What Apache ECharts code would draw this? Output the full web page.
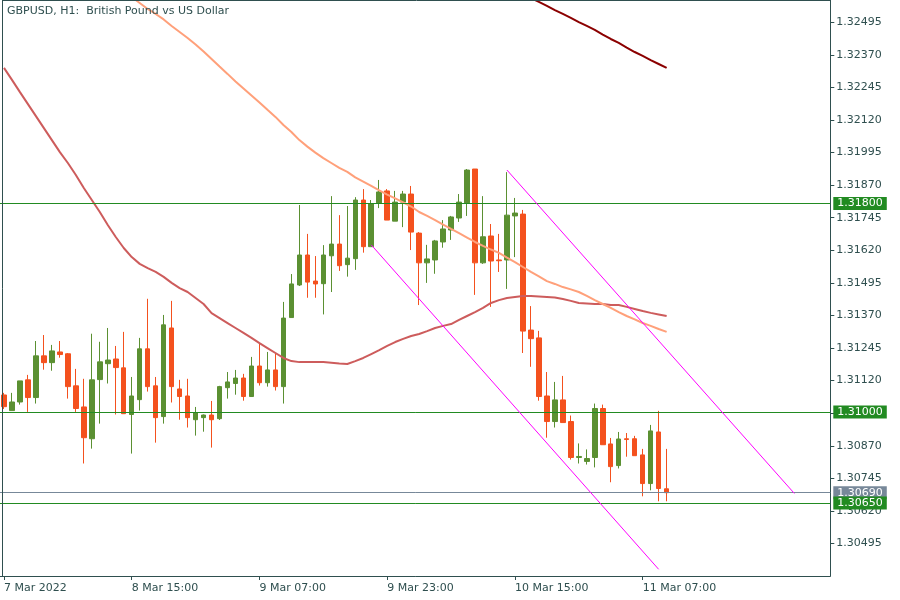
<!DOCTYPE html>
<html>
<head>
<meta charset="utf-8">
<script src="https://cdn.jsdelivr.net/npm/echarts@6/dist/echarts.min.js"></script>
<style>
html,body{margin:0;padding:0;background:#fff;}
#chart{width:900px;height:600px;}
</style>
</head>
<body>
<div id="chart"></div>
<script>
// ---- data (GBPUSD H1, first bar 7 Mar 2022 23:00) ----
const openP = [1.31065,1.31005,1.31038,1.31123,1.31055,1.31215,1.31189,1.31230,1.31223,1.31100,
1.31019,1.30897,1.31124,1.31185,1.31203,1.31169,1.30990,1.31047,1.31242,1.31100,
1.30982,1.31322,1.31088,1.31061,1.30970,1.30978,1.30988,1.30974,1.31093,1.31109,
1.31130,1.31059,1.31176,1.31112,1.31161,1.31097,1.31362,1.31487,1.31602,1.31502,
1.31492,1.31599,1.31644,1.31565,1.31588,1.31813,1.31634,1.31802,1.31848,1.31732,
1.31805,1.31836,1.31686,1.31572,1.31583,1.31652,1.31698,1.31744,1.31802,1.31932,
1.31572,1.31675,1.31583,1.31583,1.31752,1.31759,1.31314,1.31284,1.31061,1.30963,
1.31046,1.30963,1.30825,1.30810,1.30825,1.31013,1.30877,1.30794,1.30897,1.30897,
1.30835,1.30725,1.30923,1.30705];
const closeP = [1.31020,1.31038,1.31119,1.31055,1.31215,1.31189,1.31234,1.31220,1.31097,1.31013,
1.30901,1.31123,1.31192,1.31199,1.31170,1.30993,1.31061,1.31242,1.31097,1.30978,
1.31334,1.31097,1.31059,1.30978,1.30997,1.30988,1.30970,1.31097,1.31115,1.31130,
1.31059,1.31176,1.31112,1.31161,1.31097,1.31360,1.31491,1.31602,1.31498,1.31491,
1.31602,1.31644,1.31561,1.31590,1.31813,1.31634,1.31798,1.31844,1.31736,1.31805,
1.31836,1.31690,1.31572,1.31587,1.31656,1.31702,1.31748,1.31805,1.31928,1.31572,
1.31672,1.31579,1.31580,1.31755,1.31763,1.31310,1.31281,1.31059,1.30963,1.31046,
1.30959,1.30825,1.30829,1.30821,1.31013,1.30874,1.30790,1.30896,1.30894,1.30832,
1.30725,1.30927,1.30706,1.30690];
const lowP = [1.31011,1.31005,1.31028,1.31000,1.31032,1.31162,1.31158,1.31208,1.31051,1.31000,
1.30802,1.30859,1.30955,1.31109,1.30990,1.30993,1.30840,1.31005,1.31078,1.30882,
1.30955,1.31036,1.30970,1.30940,1.30909,1.30924,1.30863,1.30969,1.31051,1.31066,
1.31043,1.31059,1.31101,1.31097,1.31082,1.31032,1.31362,1.31483,1.31438,1.31438,
1.31374,1.31460,1.31541,1.31519,1.31545,1.31611,1.31634,1.31782,1.31736,1.31732,
1.31709,1.31621,1.31410,1.31495,1.31530,1.31630,1.31660,1.31729,1.31752,1.31449,
1.31568,1.31403,1.31537,1.31472,1.31594,1.31226,1.31173,1.31043,1.30901,1.30940,
1.30959,1.30817,1.30802,1.30798,1.30787,1.30874,1.30730,1.30783,1.30828,1.30832,
1.30676,1.30699,1.30657,1.30657];
const highP = [1.31073,1.31073,1.31119,1.31142,1.31272,1.31295,1.31257,1.31272,1.31226,1.31165,
1.31127,1.31300,1.31269,1.31322,1.31253,1.31307,1.31134,1.31284,1.31434,1.31134,
1.31372,1.31426,1.31123,1.31127,1.31019,1.30990,1.31042,1.31100,1.31153,1.31161,
1.31146,1.31211,1.31265,1.31230,1.31223,1.31422,1.31529,1.31794,1.31683,1.31598,
1.31640,1.31828,1.31755,1.31790,1.31824,1.31855,1.31813,1.31890,1.31855,1.31848,
1.31848,1.31867,1.31690,1.31641,1.31660,1.31736,1.31752,1.31836,1.31932,1.31932,
1.31828,1.31721,1.31683,1.31920,1.31821,1.31775,1.31406,1.31311,1.31153,1.31115,
1.31138,1.30986,1.30879,1.30856,1.31032,1.31028,1.30900,1.30923,1.30919,1.30908,
1.30858,1.30950,1.31004,1.30858];

// moving averages (null where not drawn)
const maSalmon = [null,null,null,null,null,null,null,null,null,null,
null,null,null,null,1.32638,1.32615,1.32592,1.32569,1.32546,1.32527,
1.32506,1.32481,1.32458,1.32435,1.32410,1.32383,1.32354,1.32325,1.32297,1.32268,
1.32241,1.32214,1.32187,1.32159,1.32132,1.32101,1.32074,1.32043,1.32018,1.31995,
1.31974,1.31955,1.31936,1.31921,1.31900,1.31884,1.31867,1.31850,1.31834,1.31819,
1.31804,1.31788,1.31767,1.31752,1.31736,1.31719,1.31702,1.31686,1.31669,1.31652,
1.31637,1.31623,1.31610,1.31592,1.31575,1.31556,1.31537,1.31520,1.31502,1.31491,
1.31479,1.31470,1.31460,1.31445,1.31429,1.31414,1.31399,1.31383,1.31368,1.31355,
1.31341,1.31330,1.31318,1.31307];
const maIndian = [1.32320,1.32274,1.32227,1.32181,1.32135,1.32089,1.32043,1.31997,1.31955,1.31909,
1.31859,1.31813,1.31767,1.31717,1.31671,1.31629,1.31594,1.31568,1.31552,1.31537,
1.31518,1.31495,1.31475,1.31460,1.31437,1.31414,1.31379,1.31360,1.31341,1.31322,
1.31303,1.31284,1.31264,1.31245,1.31226,1.31207,1.31195,1.31191,1.31191,1.31191,
1.31191,1.31189,1.31186,1.31184,1.31195,1.31207,1.31222,1.31237,1.31253,1.31268,
1.31280,1.31291,1.31299,1.31310,1.31322,1.31330,1.31337,1.31353,1.31368,1.31383,
1.31399,1.31418,1.31429,1.31437,1.31441,1.31445,1.31445,1.31443,1.31441,1.31439,
1.31433,1.31426,1.31418,1.31416,1.31414,1.31414,1.31410,1.31410,1.31403,1.31395,
1.31387,1.31380,1.31374,1.31368];
const maMaroon = [null,null,null,null,null,null,null,null,null,null,
null,null,null,null,null,null,null,null,null,null,
null,null,null,null,null,null,null,null,null,null,
null,null,null,null,null,null,null,null,null,null,
null,null,null,null,null,null,null,null,null,null,
null,null,null,null,null,null,null,null,null,null,
null,null,null,null,null,1.32604,1.32588,1.32573,1.32558,1.32542,
1.32527,1.32512,1.32496,1.32481,1.32466,1.32448,1.32431,1.32416,1.32398,1.32381,
1.32366,1.32350,1.32335,1.32320];

// horizontal levels
const levelsGreen = [1.31800, 1.31000, 1.30650];
const currentPrice = 1.30690;
// channel trend lines: [barIndex, price] endpoints
const channelUpper = [[63, 1.31928], [99, 1.30687]];
const channelLower = [[46, 1.31641], [82, 1.30396]];

// axes
const yTickValues = [1.32495,1.32370,1.32245,1.32120,1.31995,1.31870,1.31745,1.31620,1.31495,1.31370,1.31245,1.31120,1.30995,1.30870,1.30745,1.30620,1.30495];
const xTickLabels = ['7 Mar 2022','8 Mar 15:00','9 Mar 07:00','9 Mar 23:00','10 Mar 15:00','11 Mar 07:00'];
const totalSlots = 104;
const yMin = 1.3037027, yMax = 1.3258057;

// build categories (hour slots)
const categories = [];
for (let i = 0; i < totalSlots; i++) categories.push('bar' + i);
const candleData = openP.map((o, i) => [o, closeP[i], lowP[i], highP[i]]);

const FONT = 'DejaVu Sans';
const TXT = '#2f4f4f';
const GREEN_LVL = '#228b22';
const GREY_LVL = '#778899';

const chart = echarts.init(document.getElementById('chart'), null, {renderer: 'canvas'});
const lvlLabel = (bg) => ({
  show: true, position: 'end', distance: 3,
  formatter: (p) => Number(p.value).toFixed(5),
  color: '#fff', backgroundColor: bg, padding: [1, 4, 1, 4],
  fontFamily: FONT, fontSize: 11
});
const markData = [];
markData.push({yAxis: currentPrice, lineStyle: {color: GREY_LVL, width: 1, type: 'solid'}, label: lvlLabel(GREY_LVL)});
levelsGreen.forEach(v => markData.push({yAxis: v, lineStyle: {color: GREEN_LVL, width: 1, type: 'solid'}, label: lvlLabel(GREEN_LVL)}));
[channelUpper, channelLower].forEach(ch => {
  markData.push([
    {coord: ch[0], lineStyle: {color: '#ff00ff', width: 1, type: 'solid'}, label: {show: false}},
    {coord: ch[1]}
  ]);
});

const option = {
  animation: false,
  backgroundColor: '#ffffff',
  grid: {left: -1.7, top: 0, width: 832, height: 576},
  xAxis: {
    type: 'category',
    data: categories,
    boundaryGap: true,
    axisLine: {show: true, lineStyle: {color: TXT, width: 1}},
    axisTick: {
      show: true, alignWithLabel: true, length: 4,
      interval: (idx) => idx % 16 === 0 && idx <= 80,
      lineStyle: {color: TXT}
    },
    axisLabel: {
      interval: (idx) => idx % 16 === 0 && idx <= 80,
      formatter: (v, idx) => xTickLabels[idx / 16] || '',
      align: 'left', margin: 7,
      color: TXT, fontFamily: FONT, fontSize: 11
    },
    splitLine: {show: false}
  },
  yAxis: {
    type: 'value',
    position: 'right',
    min: yMin, max: yMax,
    scale: true,
    axisLine: {show: true, lineStyle: {color: TXT, width: 1}},
    axisTick: {show: true, length: 4, customValues: yTickValues, lineStyle: {color: TXT}},
    axisLabel: {
      customValues: yTickValues,
      formatter: (v) => v.toFixed(5),
      margin: 6, color: TXT, fontFamily: FONT, fontSize: 11
    },
    splitLine: {show: false}
  },
  series: [
    {
      type: 'candlestick',
      data: candleData,
      barWidth: 5,
      itemStyle: {
        color: '#5b9032', color0: '#f4511e',
        borderColor: '#5b9032', borderColor0: '#f4511e', borderWidth: 1
      },
      z: 2
    },
    {type: 'line', data: maIndian, showSymbol: false, symbol: 'none', lineStyle: {color: '#cd5c5c', width: 2}, z: 3, connectNulls: false},
    {type: 'line', data: maSalmon, showSymbol: false, symbol: 'none', lineStyle: {color: '#ffa07a', width: 2}, z: 3},
    {type: 'line', data: maMaroon, showSymbol: false, symbol: 'none', lineStyle: {color: '#8b0000', width: 2}, z: 3},
    {
      type: 'line', data: [], z: 4,
      markLine: {symbol: ['none', 'none'], precision: 5, silent: true, animation: false, data: markData}
    }
  ],
  graphic: [
    {type: 'line', shape: {x1: 2.5, y1: 0, x2: 2.5, y2: 576.5}, style: {stroke: TXT, lineWidth: 1}, z: 100},
    {type: 'line', shape: {x1: 2, y1: 0.5, x2: 831, y2: 0.5}, style: {stroke: TXT, lineWidth: 1}, z: 100},
    {type: 'text', left: 7, top: 6, style: {text: 'GBPUSD, H1:  British Pound vs US Dollar', fill: TXT, font: '11px "DejaVu Sans"'}, z: 100}
  ]
};
chart.setOption(option);
</script>
</body>
</html>
